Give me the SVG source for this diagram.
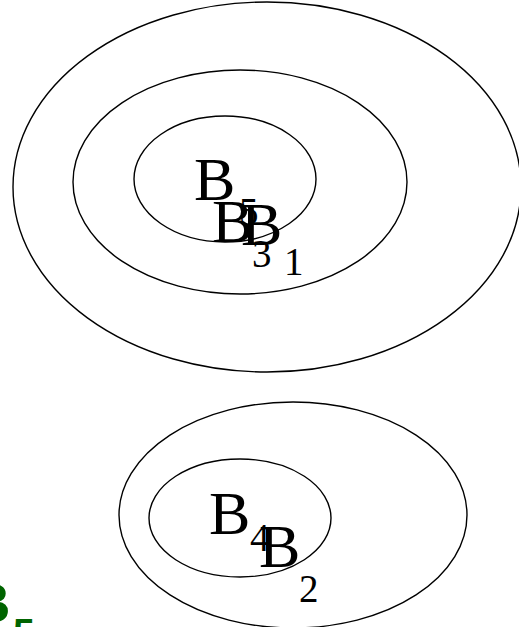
<svg xmlns="http://www.w3.org/2000/svg" width="519" height="627" viewBox="0 0 519 627">
<style>
.e{fill:none;stroke:#000;stroke-width:1.4}
.t{font-family:"Liberation Serif","Times New Roman",serif;font-size:62px;fill:#000}
.s{font-size:39px}
.g{font-family:"Liberation Sans",Arial,sans-serif;font-size:56px;font-weight:bold;fill:#006400}
</style>
<rect width="519" height="627" fill="#fff"/>
<g id="B1"><ellipse class="e" cx="267" cy="187" rx="254" ry="185"/><text class="t" x="241" y="245">B<tspan class="s" x="284" y="275">1</tspan></text></g>
<g id="B3"><ellipse class="e" cx="240" cy="182" rx="167" ry="112"/><text class="t" x="212" y="242">B<tspan class="s" x="252" y="267">3</tspan></text></g>
<g id="B5"><ellipse class="e" cx="225" cy="179" rx="91" ry="63"/><text class="t" x="194" y="200">B<tspan class="s" x="239" y="225">5</tspan></text></g>
<g id="B2"><ellipse class="e" cx="293" cy="515" rx="174" ry="113"/><text class="t" x="259" y="567">B<tspan class="s" x="299" y="602">2</tspan></text></g>
<g id="B4"><ellipse class="e" cx="240" cy="518" rx="91" ry="59"/><text class="t" x="209" y="534">B<tspan class="s" x="250" y="551">4</tspan></text></g>
<g id="label"><text class="g" x="-30" y="622">B<tspan class="s" x="13" y="646">5</tspan></text></g>
</svg>
